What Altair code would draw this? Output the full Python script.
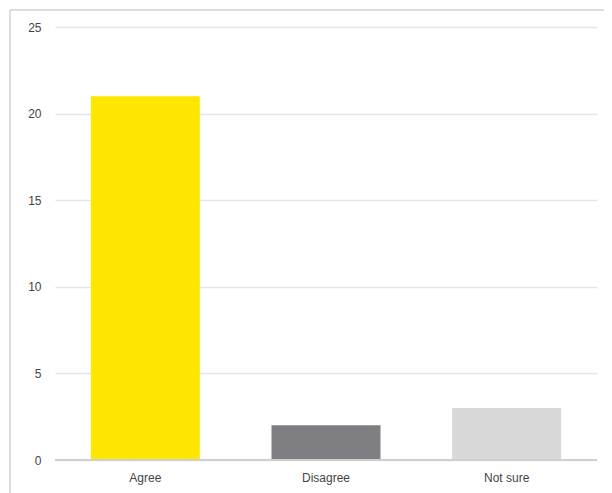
import altair as alt
import pandas as pd

categories = ["Agree", "Disagree", "Not sure"]
values = [21, 2, 3]
colors = ["#FFE600", "#7F7F83", "#D8D8D8"]
y_ticks = [0, 5, 10, 15, 20, 25]
title_text = "settlement model"

df = pd.DataFrame({"answer": categories, "count": values, "color": colors})

bars = alt.Chart(df).mark_bar(size=109).encode(
    x=alt.X("answer:N", sort=categories, title=None,
            scale=alt.Scale(paddingInner=0.4, paddingOuter=0.2),
            axis=alt.Axis(labelAngle=0, labelFont="Liberation Sans", labelFontSize=12,
                          labelColor="#444444", ticks=False, domain=False, labelPadding=12,
                          grid=False)),
    y=alt.Y("count:Q", title=None,
            scale=alt.Scale(domain=[0, 25], nice=False),
            axis=alt.Axis(values=y_ticks, labelFont="Liberation Sans", labelFontSize=12,
                          labelColor="#444444", ticks=False, domain=False, labelPadding=14,
                          grid=True, gridColor="#E6E6E6", gridWidth=1.5)),
    color=alt.Color("color:N", scale=None),
)

baseline = alt.Chart(df).mark_rule(color="#CFCFCF", strokeWidth=2).encode(
    y=alt.datum(0)
)

frame_left = alt.Chart(df).mark_rule(color="#DDDDDD", strokeWidth=2).encode(
    x=alt.value(-45), y=alt.value(-17), y2=alt.value(480)
)
frame_top = alt.Chart(df).mark_rule(color="#DDDDDD", strokeWidth=2).encode(
    x=alt.value(-45), x2=alt.value(600), y=alt.value(-17)
)

chart = alt.layer(frame_left, frame_top, bars, baseline).properties(
    width=542,
    height=433,
    padding={"left": 47, "top": 19, "right": 7, "bottom": 33},
    autosize=alt.AutoSizeParams(type="none"),
    title=alt.TitleParams(title_text, font="Open Sans", fontSize=26, fontWeight="bold",
                          color="#3B4A5A", baseline="alphabetic", offset=16,
                          frame="group", anchor="start", dx=78),
).configure(background="white").configure_view(stroke=None)

chart.save("out.html", embed_options={"renderer": "svg", "actions": False})
